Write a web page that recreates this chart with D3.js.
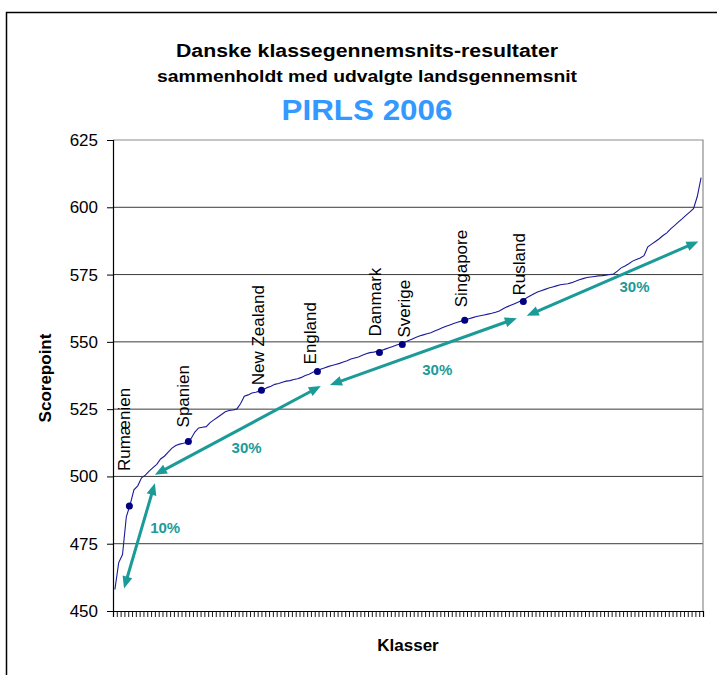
<!DOCTYPE html>
<html>
<head>
<meta charset="utf-8">
<script src="https://cdn.jsdelivr.net/npm/d3@7"></script>
<style>
  body { margin: 0; background: #fff; }
  text { font-family: Arial, "Liberation Sans", sans-serif; }
</style>
</head>
<body>
<svg width="717" height="675"></svg>
<script>
// class averages (Danish classes, sorted)
const classScores = [
  458, 468, 471, 485, 489.5, 495, 496.5, 499.5, 500.5, 502,
  503.3, 504.5, 506.5, 507.5, 509, 510.5, 511.5, 512, 512.3, 512.7,
  514, 516.5, 518, 518.3, 518.5, 520, 521, 522, 523, 524,
  524.5, 524.7, 525, 527, 529.8, 530.3, 531, 531.3, 531.7, 532.2,
  533, 533.5, 534.2, 534.5, 535, 535.4, 535.6, 536, 536.3, 536.8,
  537.5, 538, 538.7, 539.3, 539.8, 540.3, 540.8, 541.2, 541.6, 542,
  542.5, 543, 543.6, 544, 544.4, 545, 545.6, 546, 546.2, 546.5,
  546.8, 547.3, 547.8, 548.3, 548.8, 549.2, 549.8, 550.4, 551, 551.6,
  552.2, 552.6, 553, 553.4, 554, 554.6, 555.2, 555.8, 556.3, 556.8,
  557.3, 557.7, 558.1, 558.6, 559, 559.4, 559.7, 560, 560.3, 560.6,
  561, 561.5, 562.3, 563, 563.6, 564.2, 564.8, 565.5, 566.2, 567,
  567.8, 568.5, 569, 569.5, 570, 570.4, 570.8, 571.2, 571.4, 571.6,
  572, 572.5, 573.1, 573.5, 573.9, 574.1, 574.3, 574.5, 574.6, 574.8,
  575, 575.2, 576.3, 577.5, 578.2, 579, 580, 580.6, 581.2, 582,
  585.3, 586.3, 587.3, 588.3, 589.5, 590.5, 592, 593.2, 594.5, 595.7,
  597, 598.2, 599.5, 604, 611
];
const yTicks = [450, 475, 500, 525, 550, 575, 600, 625];

// national averages and where they sit among the classes
const countries = ["Rumænien", "Spanien", "New Zealand", "England", "Danmark", "Sverige", "Singapore", "Rusland"];
const countryScores = [489, 513, 532, 539, 546, 549, 558, 565];
const countryRank = [4.3, 19.8, 39.0, 53.7, 70.0, 76.0, 92.4, 107.8];

// share arrows: [rank, score] at each end
const shares = ["10%", "30%", "30%", "30%"];
const shareFrom = [[2.9, 458.4], [11.0, 500.6], [57.0, 534.0], [108.7, 559.7]];
const shareTo = [[11.0, 497.5], [54.6, 533.6], [106.1, 558.8], [153.8, 587.3]];
const shareLabelAt = [[13.7, 480.8], [35.1, 510.5], [85.2, 539.8], [137.0, 570.6]];

const svg = d3.select("svg");
const W = 717, H = 675;
const plotLeft = 113, plotRight = 703, plotTop = 140, plotBottom = 611;
const N = classScores.length;
const teal = "#1b9b98";

svg.append("rect").attr("width", W).attr("height", H).attr("fill", "#fff");
// outer chart border (right/bottom run off the picture)
svg.append("rect")
  .attr("x", 6.5).attr("y", 12.5).attr("width", W + 10).attr("height", H + 10)
  .attr("fill", "none").attr("stroke", "#000").attr("stroke-width", 1.5);

var x = d3.scaleLinear().domain([0, N]).range([plotLeft, plotRight]);
var y = d3.scaleLinear().domain([450, 625]).range([plotBottom, plotTop]);

// gridlines
svg.append("g")
  .selectAll("line")
  .data(yTicks.filter((d) => d > 450 && d < 625))
  .enter()
  .append("line")
  .attr("x1", plotLeft).attr("x2", plotRight)
  .attr("y1", (d) => y(d)).attr("y2", (d) => y(d))
  .attr("stroke", "#3a3a3a").attr("stroke-width", 1);

// plot area border top/right
svg.append("path")
  .attr("d", `M${plotLeft},${y(625)}H${plotRight}V${plotBottom}`)
  .attr("fill", "none").attr("stroke", "#8c8c8c").attr("stroke-width", 1.2);

// y axis
var yAxis = d3.axisLeft(y).tickValues(yTicks).tickSize(6).tickPadding(9);
var gy = svg.append("g").attr("transform", `translate(${plotLeft},0)`).call(yAxis);
gy.select(".domain").attr("stroke", "#000").attr("stroke-width", 1.2);
gy.selectAll(".tick line").attr("stroke", "#000");
gy.selectAll("text").attr("font-size", 17).attr("fill", "#000")
  .attr("font-family", 'Arial, "Liberation Sans", sans-serif');

// x axis, one tick per class
var xAxis = d3.axisBottom(x).tickValues(d3.range(N + 1)).tickSize(6).tickFormat("");
var gx = svg.append("g").attr("transform", `translate(0,${plotBottom})`).call(xAxis);
gx.select(".domain").attr("stroke", "#000").attr("stroke-width", 1.2);
gx.selectAll(".tick line").attr("stroke", "#000").attr("stroke-width", 0.9);

// class line
var line = d3.line()
  .x((d, i) => x(i + 0.5))
  .y((d) => y(d));
svg.append("path")
  .datum(classScores)
  .attr("d", line)
  .attr("fill", "none")
  .attr("stroke", "#1a1a9a")
  .attr("stroke-width", 1.1);

// share arrows
function arrow(a, b) {
  let x1 = x(a[0]), y1 = y(a[1]), x2 = x(b[0]), y2 = y(b[1]);
  let dx = x2 - x1, dy = y2 - y1, len = Math.hypot(dx, dy);
  let ux = dx / len, uy = dy / len, head = 12, half = 5;
  let g = svg.append("g");
  g.append("line")
    .attr("x1", x1 + ux * (head - 2)).attr("y1", y1 + uy * (head - 2))
    .attr("x2", x2 - ux * (head - 2)).attr("y2", y2 - uy * (head - 2))
    .attr("stroke", teal).attr("stroke-width", 3);
  [[x1, y1, 1], [x2, y2, -1]].forEach(([px, py, s]) => {
    let bx = px + s * ux * head, by = py + s * uy * head;
    g.append("path")
      .attr("d", `M${px},${py}L${bx - uy * half},${by + ux * half}L${bx + uy * half},${by - ux * half}Z`)
      .attr("fill", teal);
  });
}
shares.forEach((s, i) => arrow(shareFrom[i], shareTo[i]));

svg.append("g")
  .selectAll("text")
  .data(shares)
  .enter()
  .append("text")
  .attr("x", (d, i) => x(shareLabelAt[i][0]))
  .attr("y", (d, i) => y(shareLabelAt[i][1]))
  .attr("dy", "0.35em")
  .attr("text-anchor", "middle")
  .attr("font-size", 15)
  .attr("font-weight", "bold")
  .attr("fill", teal)
  .text((d) => d);

// country points + labels
var labelGap = [35, 14, 5, 7, 16, 7, 13, 6];
var labelDx = [-5, -5, -3, -7, -4, 2, -4, -4];
var pts = svg.append("g");
pts.selectAll("circle")
  .data(countries)
  .enter()
  .append("circle")
  .attr("cx", (d, i) => x(countryRank[i]))
  .attr("cy", (d, i) => y(countryScores[i]))
  .attr("r", 3.5)
  .attr("fill", "#000080");

pts.selectAll("text")
  .data(countries)
  .enter()
  .append("text")
  .attr("transform", (d, i) => {
    let px = x(countryRank[i]) + labelDx[i], py = y(countryScores[i]) - labelGap[i];
    return `translate(${px},${py}) rotate(-90)`;
  })
  .attr("dy", "0.35em")
  .attr("font-size", 17)
  .attr("fill", "#000")
  .text((d) => d);

// titles
svg.append("text").attr("x", 367).attr("y", 57).attr("text-anchor", "middle")
  .attr("font-size", 18).attr("font-weight", "bold")
  .attr("textLength", 382).attr("lengthAdjust", "spacingAndGlyphs")
  .text("Danske klassegennemsnits-resultater");
svg.append("text").attr("x", 367).attr("y", 82).attr("text-anchor", "middle")
  .attr("font-size", 17).attr("font-weight", "bold")
  .attr("textLength", 420).attr("lengthAdjust", "spacingAndGlyphs")
  .text("sammenholdt med udvalgte landsgennemsnit");
svg.append("text").attr("x", 367).attr("y", 120).attr("text-anchor", "middle")
  .attr("font-size", 30).attr("font-weight", "bold").attr("fill", "#3399ff")
  .attr("textLength", 171).attr("lengthAdjust", "spacingAndGlyphs")
  .text("PIRLS 2006");

// axis titles
svg.append("text")
  .attr("transform", "translate(45,378) rotate(-90)")
  .attr("dy", "0.35em")
  .attr("text-anchor", "middle")
  .attr("font-size", 17).attr("font-weight", "bold")
  .text("Scorepoint");
svg.append("text")
  .attr("x", 408).attr("y", 645).attr("dy", "0.35em")
  .attr("text-anchor", "middle")
  .attr("font-size", 17).attr("font-weight", "bold")
  .text("Klasser");
</script>
</body>
</html>
